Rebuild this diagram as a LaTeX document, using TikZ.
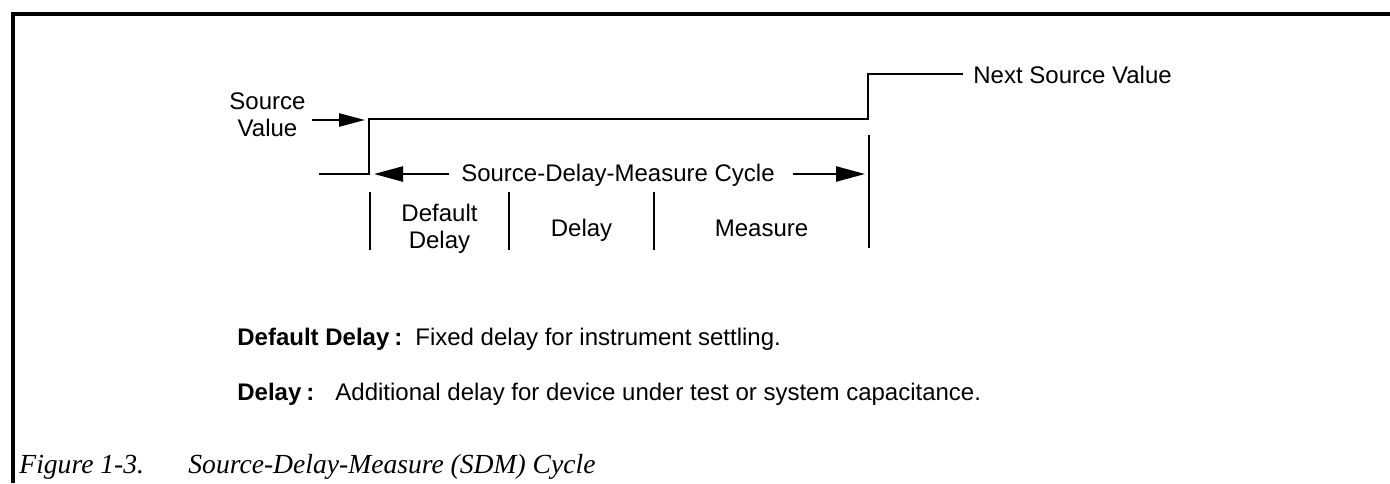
\documentclass[tikz,border=0pt]{standalone}
\usepackage{fontspec}
\setmainfont{Liberation Sans}
\newfontfamily\capfont{Liberation Serif}
\usetikzlibrary{arrows.meta}
\begin{document}
\begin{tikzpicture}[x=0.5pt,y=-0.5pt,
  lab/.style={inner sep=0pt, font=\fontsize{12pt}{13.5pt}\selectfont, align=center},
  labbase/.style={lab, anchor=base},
  wave/.style={line width=1.25pt},
  tickline/.style={line width=1.2pt},
  svarrow/.style={line width=1.2pt,-{Triangle[length=13pt,width=6.5pt]}},
  cycarrow/.style={line width=1.2pt,-{Triangle[length=14.5pt,width=7.5pt]}},
  frameline/.style={line width=1.6pt},
  body/.style={inner sep=0pt, anchor=base west, font=\fontsize{12pt}{14pt}\selectfont},
  bodyb/.style={inner sep=0pt, anchor=base west, font=\fontsize{12pt}{14pt}\selectfont\bfseries},
  captext/.style={inner sep=0pt, anchor=base west, font=\fontsize{13.8pt}{16pt}\selectfont\capfont\itshape}]
\useasboundingbox (0,0) rectangle (1390,483);
% frame
\coordinate (fr1) at (1390,14);
\coordinate (fr2) at (13,14);
\coordinate (fr3) at (13,483);
\draw[frameline] (fr1) -- (fr2) -- (fr3);
% waveform
\coordinate (w0) at (319,174);
\coordinate (w1) at (369,174);
\coordinate (w2) at (369,119);
\coordinate (w3) at (868,119);
\coordinate (w4) at (868,74);
\coordinate (w5) at (963,74);
\draw[wave] (w0) -- (w1) -- (w2) -- (w3) -- (w4) -- (w5);
% labels
\node[lab] (sv) at (267.5,115) {Source\\Value};
\coordinate (svtip) at (365,120);
\draw[svarrow] ([xshift=3.25pt]sv.east |- svtip) -- (svtip);
\node[lab, anchor=base west] (nsv) at (973,83.5) {Next Source Value};
\node[labbase] (cyc) at (618,181.5) {Source-Delay-Measure Cycle};
% ticks
\coordinate (t1a) at (370,192); \coordinate (t1b) at (370,250);
\coordinate (t2a) at (509,192); \coordinate (t2b) at (509,250);
\coordinate (t3a) at (654,192); \coordinate (t3b) at (654,250);
\coordinate (t4a) at (869,135); \coordinate (t4b) at (869,248);
\draw[tickline] (t1a) -- (t1b);
\draw[tickline] (t2a) -- (t2b);
\draw[tickline] (t3a) -- (t3b);
\draw[tickline] (t4a) -- (t4b);
% cycle arrows
\coordinate (cl) at (374,174);
\coordinate (cr) at (865,174);
\draw[cycarrow] ([xshift=-6pt]cyc.west |- cl) -- (cl);
\draw[cycarrow] ([xshift=9pt]cyc.east |- cr) -- (cr);
% phase labels
\node[lab] (dd) at (439.5,228.5) {Default\\Delay};
\node[labbase] (dl) at (581.5,236.5) {Delay};
\node[labbase] (ms) at (761.5,236.5) {Measure};
% body text
\node[bodyb] (b1) at (237,345.5) {Default Delay};
\node[bodyb] (c1) at (394,345.5) {:};
\node[body] (d1) at (415,345.5) {Fixed delay for instrument settling.};
\node[bodyb] (b2) at (237,400.5) {Delay};
\node[bodyb] (c2) at (306,400.5) {:};
\node[body] (d2) at (335,400.5) {Additional delay for device under test or system capacitance.};
% caption
\node[captext] (f1) at (19,473) {Figure 1-3.};
\node[captext] (f2) at (188,473) {Source-Delay-Measure (SDM) Cycle};
\end{tikzpicture}
\end{document}
